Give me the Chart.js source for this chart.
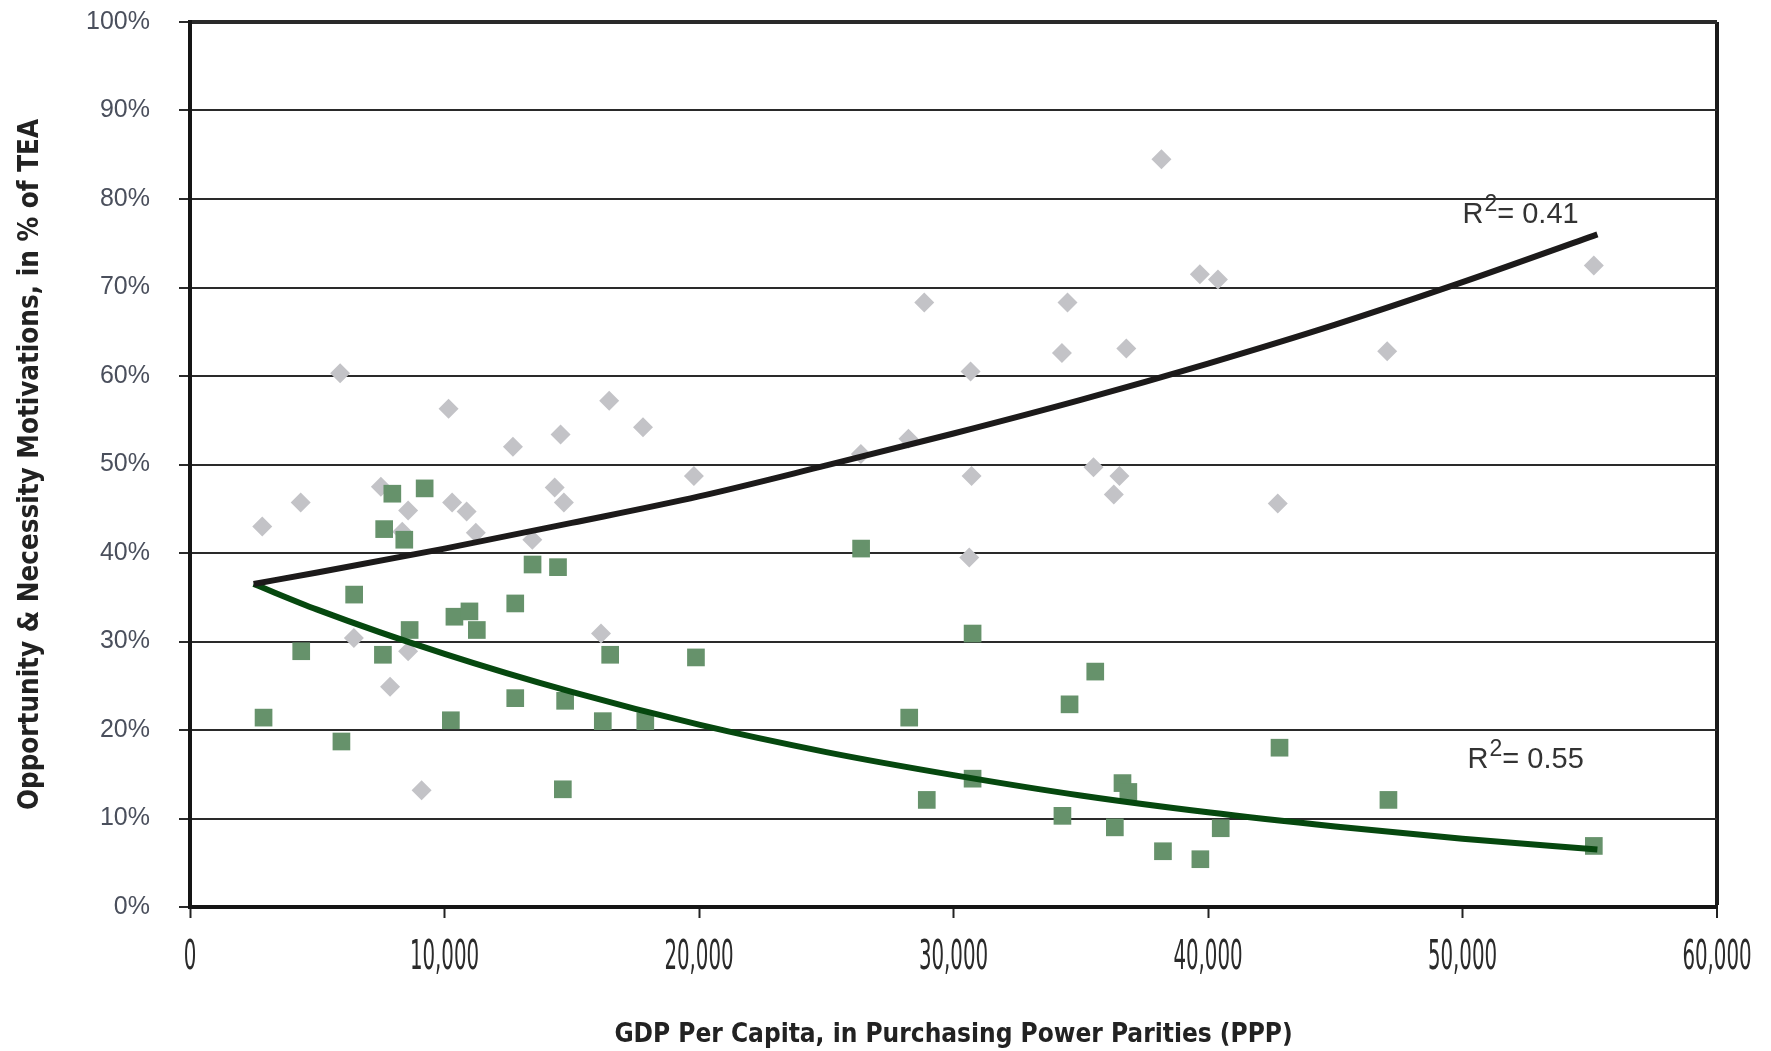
<!DOCTYPE html>
<html>
<head>
<meta charset="utf-8">
<script src="https://cdn.jsdelivr.net/npm/chart.js@4.4.1/dist/chart.umd.min.js"></script>
<style>
  html, body { margin: 0; padding: 0; background: #fff; }
  #wrap { width: 1771px; height: 1051px; }
</style>
</head>
<body>
<div id="wrap"><canvas id="chart" width="1771" height="1051"></canvas></div>
<script>
"use strict";

// opportunity motivation (grey diamonds): GDP per capita and share of TEA (%)
const oppGdp = [2840, 4350, 5900, 6440, 7500, 7860, 8340, 8570, 8570, 9100,
    10160, 10300, 10870, 11230, 12690, 13450, 14330, 14560, 14690, 16150,
    16470, 17800, 19800, 26360, 28230, 28850, 30620, 30670, 30710, 34260,
    34480, 35500, 36300, 36520, 36790, 38170, 39680, 40390, 42740, 47040, 55160];
const oppShare = [43.0, 45.7, 60.3, 30.4, 47.5, 24.9, 42.4, 44.8, 28.9, 13.2,
    56.3, 45.7, 44.7, 42.3, 52.0, 41.5, 47.4, 53.4, 45.7, 30.9,
    57.2, 54.2, 48.7, 51.2, 52.9, 68.3, 39.5, 60.5, 48.7, 62.6,
    68.3, 49.7, 46.6, 48.7, 63.1, 84.5, 71.5, 70.9, 45.6, 62.8, 72.5];

// necessity motivation (green squares)
const necGdp = [2890, 4370, 5950, 6450, 7580, 7630, 7950, 8420, 8630, 9220,
    10250, 10390, 10980, 11270, 12780, 12780, 13460, 14460, 14650, 14740,
    16220, 16510, 17890, 19880, 26370, 28260, 28950, 30750, 30750, 34280,
    34560, 35570, 36340, 36640, 36870, 38230, 39700, 40500, 42810, 47090, 55160];
const necShare = [21.4, 28.9, 18.7, 35.3, 28.5, 42.7, 46.7, 41.5, 31.3, 47.3,
    21.1, 32.8, 33.4, 31.3, 34.3, 23.6, 38.7, 38.4, 13.3, 23.3,
    21.0, 28.5, 21.0, 28.2, 40.5, 21.4, 12.1, 30.9, 14.5, 10.3,
    22.9, 26.6, 9.0, 14.0, 13.0, 6.3, 5.4, 8.9, 18.0, 12.1, 6.9];

// exponential trend lines at these GDP values
const trendGdp = [2500, 5000, 10000, 15000, 20000, 25000, 30000, 35000, 40000, 45000, 50000, 55300];
const oppTrend = [36.5, 37.8, 40.5, 43.4, 46.4, 49.9, 53.5, 57.3, 61.4, 65.8, 70.6, 76.0];
const necTrend = [36.5, 33.6, 28.6, 24.3, 20.6, 17.5, 14.9, 12.6, 10.7, 9.1, 7.7, 6.5];

const r2Values = ["0.41", "0.55"];
const r2Anchor = [[50000, 78.2], [50200, 16.6]];

const xTitle = "GDP Per Capita, in Purchasing Power Parities (PPP)";
const yTitle = "Opportunity & Necessity Motivations, in % of TEA";

const narrow = '"Liberation Sans Narrow", "DejaVu Sans Condensed", "Liberation Sans", Arial, sans-serif';
const regular = '"Liberation Sans", Arial, sans-serif';

function pairs(xs, ys) {
    return xs.map((x, i) => ({x: x, y: ys[i]}));
}

// x tick labels are tall and condensed in the original, and the R² notes
const extras = {
    id: 'extras',
    afterDraw(chart) {
        const ctx = chart.ctx;
        const xs = chart.scales.x;
        const ys = chart.scales.y;
        ctx.save();
        ctx.fillStyle = '#2a2a2a';
        ctx.font = '40px ' + narrow;
        ctx.textAlign = 'center';
        ctx.textBaseline = 'middle';
        xs.ticks.forEach(t => {
            ctx.save();
            ctx.translate(xs.getPixelForValue(t.value), xs.top + 52);
            ctx.scale(0.55, 1);
            ctx.fillText(t.label, 0, 0);
            ctx.restore();
        });

        ctx.fillStyle = '#333';
        ctx.textAlign = 'left';
        r2Values.forEach((v, i) => {
            let px = xs.getPixelForValue(r2Anchor[i][0]);
            const py = ys.getPixelForValue(r2Anchor[i][1]);
            ctx.font = '29px ' + regular;
            ctx.fillText('R', px, py);
            px += ctx.measureText('R').width + 1;
            ctx.font = '23px ' + regular;
            ctx.fillText('2', px, py - 10);
            px += ctx.measureText('2').width;
            ctx.font = '29px ' + regular;
            ctx.fillText('= ' + v, px, py);
        });
        ctx.restore();
    }
};

new Chart(document.getElementById('chart'), {
    type: 'scatter',
    data: {
        datasets: [{
            label: 'Opportunity trend',
            data: pairs(trendGdp, oppTrend),
            showLine: true,
            borderColor: '#1c1a1a',
            borderWidth: 6,
            pointRadius: 0,
            cubicInterpolationMode: 'monotone',
            order: 0
        }, {
            label: 'Necessity trend',
            data: pairs(trendGdp, necTrend),
            showLine: true,
            borderColor: '#06480f',
            borderWidth: 6,
            pointRadius: 0,
            cubicInterpolationMode: 'monotone',
            order: 1
        }, {
            label: 'Necessity',
            data: pairs(necGdp, necShare),
            pointStyle: 'rect',
            pointRadius: 12.5,
            borderWidth: 0,
            backgroundColor: '#66926b',
            order: 2
        }, {
            label: 'Opportunity',
            data: pairs(oppGdp, oppShare),
            pointStyle: 'rectRot',
            pointRadius: 10,
            borderWidth: 0,
            backgroundColor: '#c3c3c7',
            order: 3
        }]
    },
    options: {
        responsive: false,
        animation: false,
        devicePixelRatio: 1,
        layout: {padding: {top: 22, right: 54, left: 0, bottom: 0}},
        plugins: {
            legend: {display: false},
            tooltip: {enabled: false}
        },
        scales: {
            x: {
                type: 'linear',
                min: 0,
                max: 60000,
                afterFit: s => { s.height = 144; },
                ticks: {
                    display: false,
                    stepSize: 10000,
                    callback: v => v.toLocaleString('en-US')
                },
                grid: {
                    color: c => c.tick && c.tick.value === 60000 ? '#1a1a1a' : 'rgba(0,0,0,0)',
                    lineWidth: c => c.tick && c.tick.value === 60000 ? 4 : 1,
                    tickColor: '#222',
                    tickLength: 11,
                    tickWidth: 2
                },
                border: {color: '#151515', width: 4},
                title: {
                    display: true,
                    text: xTitle,
                    color: '#222',
                    font: {family: narrow, size: 26, weight: 'bold'},
                    padding: {top: 0, bottom: 0}
                }
            },
            y: {
                min: 0,
                max: 100,
                afterFit: s => {
                    s.width = 190;
                    s.paddingTop = 0;
                    s.paddingBottom = 0;
                },
                ticks: {
                    stepSize: 10,
                    padding: 29,
                    color: '#4a4f5c',
                    font: {family: regular, size: 25},
                    callback: v => v + '%'
                },
                grid: {
                    color: '#2a2a2a',
                    lineWidth: c => c.tick && c.tick.value === 100 ? 4 : 2,
                    tickColor: '#2a2a2a',
                    tickLength: 11,
                    tickWidth: 2
                },
                border: {color: '#151515', width: 4},
                title: {
                    display: true,
                    text: yTitle,
                    color: '#222',
                    font: {family: narrow, size: 27.5, weight: 'bold'},
                    padding: {top: 14, bottom: 0}
                }
            }
        }
    },
    plugins: [extras]
});
</script>
</body>
</html>
